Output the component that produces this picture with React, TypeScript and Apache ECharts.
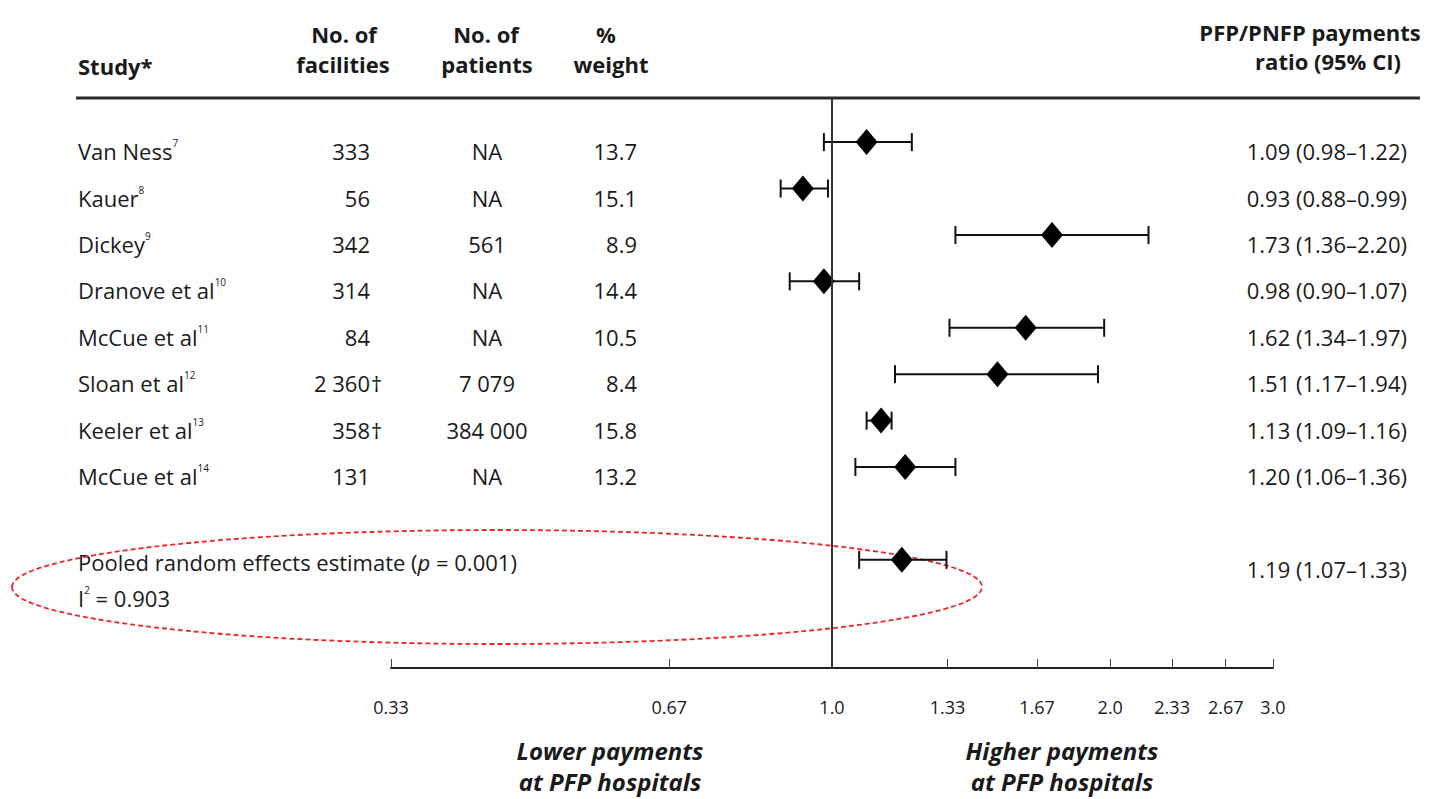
import React, { useEffect, useRef } from 'react';
import * as echarts from 'echarts';

// ---- data ----
const studies = ['Van Ness', 'Kauer', 'Dickey', 'Dranove et al', 'McCue et al', 'Sloan et al', 'Keeler et al', 'McCue et al'];
const refs = ['7', '8', '9', '10', '11', '12', '13', '14'];
const facilities = ['333', '56', '342', '314', '84', '2 360†', '358†', '131'];
const patients = ['NA', 'NA', '561', 'NA', 'NA', '7 079', '384 000', 'NA'];
const weights = ['13.7', '15.1', '8.9', '14.4', '10.5', '8.4', '15.8', '13.2'];
const ratios = [1.09, 0.93, 1.73, 0.98, 1.62, 1.51, 1.13, 1.2];
const lowers = [0.98, 0.88, 1.36, 0.9, 1.34, 1.17, 1.09, 1.06];
const uppers = [1.22, 0.99, 2.2, 1.07, 1.97, 1.94, 1.16, 1.36];
const ciLabels = ['1.09 (0.98–1.22)', '0.93 (0.88–0.99)', '1.73 (1.36–2.20)', '0.98 (0.90–1.07)', '1.62 (1.34–1.97)', '1.51 (1.17–1.94)', '1.13 (1.09–1.16)', '1.20 (1.06–1.36)'];
const pooledRatio = 1.19;
const pooledLower = 1.07;
const pooledUpper = 1.33;
const pooledLabel = '1.19 (1.07–1.33)';
const pooledRow = 9;
const tickValues = [1 / 3, 2 / 3, 1, 4 / 3, 5 / 3, 2, 7 / 3, 8 / 3, 3];
const tickLabels = ['0.33', '0.67', '1.0', '1.33', '1.67', '2.0', '2.33', '2.67', '3.0'];

// ---- layout / style ----
const FONT = '"Open Sans", Lato, sans-serif';
const TXT = '#1a1a1a';
const BODY_SIZE = 22;
const HEAD_SIZE = 22;
const COL = { study: 78, fac: 370, pat: 487, weight: 637, ci: 1407 };
const TEXT_DY = 9;

const rich = {
  n: { fontSize: BODY_SIZE, fontFamily: FONT, fill: TXT, lineHeight: 26 },
  s: { fontSize: 10, fontFamily: FONT, fill: TXT, verticalAlign: 'top', lineHeight: 12 },
  i: { fontSize: BODY_SIZE, fontFamily: FONT, fill: TXT, fontStyle: 'italic', lineHeight: 26 },
};

const ln = Math.log;

export default function App() {
  const ref = useRef<HTMLDivElement>(null);
  useEffect(() => {
    document.body.style.margin = '0';
    const chart = echarts.init(ref.current!, null, { renderer: 'svg' });
    const bodyText = (text: string, x: number, y: number, align: string) => ({
      type: 'text', x, y,
      style: { text, fontSize: BODY_SIZE, fontFamily: FONT, fill: TXT, align, verticalAlign: 'middle' },
    });
    const ciData = ratios.map((_, i) => [ln(lowers[i]), ln(uppers[i]), i]).concat([[ln(pooledLower), ln(pooledUpper), pooledRow]]);
    const pointData = ratios.map((r, i) => [ln(r), i]).concat([[ln(pooledRatio), pooledRow]]);
    const tableData = studies.map((_, i) => [0, i]);
    const header = (text: string, x: number, y: number, align = 'center') => ({
      type: 'text', x, y,
      style: { text, fontSize: HEAD_SIZE, fontWeight: 'bold', fontFamily: FONT, fill: TXT, align, verticalAlign: 'middle' },
    });
    const footer = (text: string, x: number, y: number) => ({
      type: 'text', x, y,
      style: { text, fontSize: 24, fontWeight: 'bold', fontStyle: 'italic', fontFamily: FONT, fill: TXT, align: 'center', verticalAlign: 'middle' },
    });
    chart.setOption({
      animation: false,
      backgroundColor: '#fff',
      grid: { left: 391, width: 882, top: 98, height: 570 },
      xAxis: {
        type: 'value',
        min: ln(1 / 3),
        max: ln(3),
        splitLine: { show: false },
        axisLine: { show: true, onZero: false, lineStyle: { color: '#222', width: 2 } },
        axisTick: { show: true, inside: true, length: 9, customValues: tickValues.map(ln), lineStyle: { color: '#444', width: 1 } },
        axisLabel: {
          show: true, margin: 30, fontSize: 18, fontFamily: FONT, color: TXT,
          customValues: tickValues.map(ln),
          formatter: (v: number) => {
            const k = tickValues.findIndex((t) => Math.abs(ln(t) - v) < 1e-6);
            return k >= 0 ? tickLabels[k] : '';
          },
        },
      },
      yAxis: { type: 'value', inverse: true, min: -0.95, max: 11.33, show: false },
      graphic: [
        { type: 'line', shape: { x1: 76, y1: 98, x2: 1420, y2: 98 }, style: { stroke: '#2a2a2a', lineWidth: 3 } },
        header('Study*', 78, 66, 'left'),
        header('No. of', 344, 34),
        header('facilities', 343, 64),
        header('No. of', 486, 34),
        header('patients', 487, 64),
        header('%', 606, 34),
        header('weight', 611, 64),
        header('PFP/PNFP payments', 1310, 32),
        header('ratio (95% CI)', 1328, 61),
        {
          type: 'text', x: COL.study, y: 562,
          style: { text: '{n|Pooled random effects estimate (}{i|p}{n| = 0.001)}', rich, verticalAlign: 'middle', align: 'left' },
        },
        {
          type: 'text', x: COL.study, y: 598,
          style: { text: '{n|I}{s|2}{n| = 0.903}', rich, verticalAlign: 'middle', align: 'left' },
        },
        {
          type: 'ellipse', shape: { cx: 497, cy: 587, rx: 485, ry: 57 },
          style: { fill: 'none', stroke: '#e8262a', lineWidth: 1.8, lineDash: [5, 3] },
        },
        footer('Lower payments', 610, 750),
        footer('at PFP hospitals', 610, 781),
        footer('Higher payments', 1062, 750),
        footer('at PFP hospitals', 1062, 781),
      ],
      series: [
        {
          type: 'custom',
          clip: false,
          data: ciData,
          encode: { x: [0, 1], y: 2 },
          renderItem: (params: any, api: any) => {
            const row = api.value(2);
            const p1 = api.coord([api.value(0), row]);
            const p2 = api.coord([api.value(1), row]);
            const st = { stroke: '#111', lineWidth: 2 };
            const h = 9;
            return {
              type: 'group',
              children: [
                { type: 'line', shape: { x1: p1[0], y1: p1[1], x2: p2[0], y2: p2[1] }, style: st },
                { type: 'line', shape: { x1: p1[0], y1: p1[1] - h, x2: p1[0], y2: p1[1] + h }, style: st },
                { type: 'line', shape: { x1: p2[0], y1: p2[1] - h, x2: p2[0], y2: p2[1] + h }, style: st },
              ],
            };
          },
          z: 2,
        },
        {
          type: 'scatter',
          data: pointData,
          symbol: 'diamond',
          symbolSize: [22, 26],
          itemStyle: { color: '#000', opacity: 1 },
          z: 3,
          markLine: {
            silent: true,
            symbol: 'none',
            label: { show: false },
            lineStyle: { color: '#333', width: 2, type: 'solid' },
            data: [{ xAxis: 0 }],
          },
        },
        {
          type: 'custom',
          clip: false,
          data: tableData,
          encode: { x: 0, y: 1 },
          renderItem: (params: any, api: any) => {
            const i = params.dataIndex;
            const y = api.coord([0, api.value(1)])[1] + TEXT_DY;
            const fac = facilities[i];
            const dag = fac.endsWith('†');
            const children: any[] = [
              {
                type: 'text', x: COL.study, y,
                style: { text: `{n|${studies[i]}}{s|${refs[i]}}`, rich, align: 'left', verticalAlign: 'middle' },
              },
              bodyText(dag ? fac.slice(0, -1) : fac, COL.fac, y, 'right'),
              bodyText(patients[i], COL.pat, y, 'center'),
              bodyText(weights[i], COL.weight, y, 'right'),
              bodyText(ciLabels[i], COL.ci, y, 'right'),
            ];
            if (dag) children.push(bodyText('†', COL.fac + 1, y, 'left'));
            return { type: 'group', children };
          },
        },
        {
          type: 'custom',
          clip: false,
          data: [[0, pooledRow]],
          encode: { x: 0, y: 1 },
          renderItem: (params: any, api: any) => {
            const y = api.coord([0, api.value(1)])[1] + TEXT_DY;
            return bodyText(pooledLabel, COL.ci, y, 'right');
          },
        },
      ],
    });
    return () => chart.dispose();
  }, []);
  return <div ref={ref} style={{ width: 1441, height: 799 }} />;
}
